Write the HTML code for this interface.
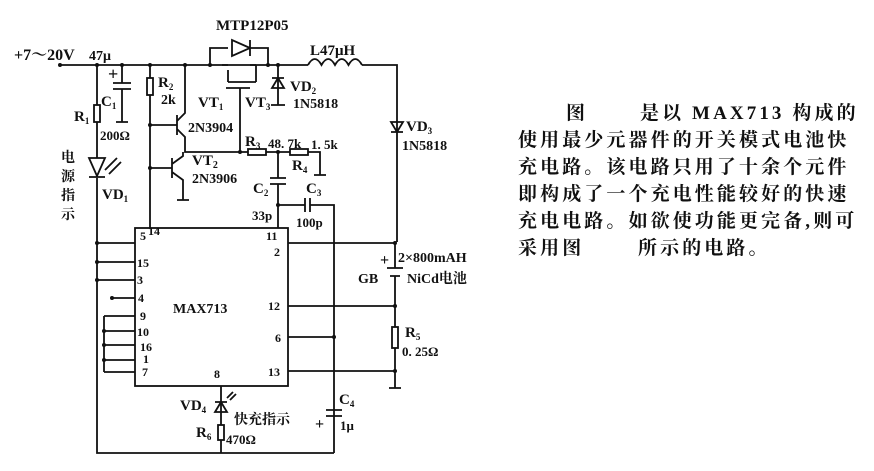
<!DOCTYPE html>
<html><head><meta charset="utf-8"><style>
html,body{margin:0;padding:0;background:#fff;}
svg{display:block}
text{font-family:"Liberation Serif","Noto Serif CJK SC",serif;fill:#111;}
.t{font-size:15px;font-weight:bold;}
.cn{font-family:"Liberation Serif","Noto Serif CJK SC",serif;font-size:19px;font-weight:bold;letter-spacing:3.1px;}
</style></head><body>
<svg width="874" height="471" viewBox="0 0 874 471" xmlns="http://www.w3.org/2000/svg">
<g stroke="#111" stroke-width="1.8" fill="none">
<path d="M60 65 H308 M362 65 H397 V242"/>
<path d="M308 65 q6.75 -12 13.5 0 q6.75 -12 13.5 0 q6.75 -12 13.5 0 q6.75 -12 13.5 0"/>
<path d="M97 65 V105 M97 122 V158 M97 178 V453 H334"/>
<rect x="94" y="105" width="6" height="17"/>
<path d="M89 158 H105 L97 176 Z M89 177 H105"/>
<path d="M105 170 L117 158 M109 174 L121 162"/>
<path d="M122 65 V83 M113 83 H131 M113 89 H131 M122 89 V122 M116 122 H128"/>
<path d="M150 65 V78 M150 95 V228"/>
<rect x="147" y="78" width="6" height="17"/>
<path d="M150 125 H177 M150 168 H172"/>
<path d="M177 115 V135 M177 121 L185 113 V65 M177 129 L185 137 V152 H248"/>
<path d="M172 158 V178 M172 164 L183 156 V152 M172 172 L183 180 V200 M177 200 H189"/>
<path d="M210 65 V48 H228 M250 48 H268 V65"/>
<path d="M250 40 V56 M250 48 L232 40 V56 Z"/>
<path d="M228 70 V82 M222 65 H228 M250 65 H256 M256 65 V82 M228 82 H256 M226 88 H250 M240 88 V152"/>
<path d="M278 65 V105 M271 105 H285 M272 78 H284 M278 78 L272 88 H284 Z"/>
<path d="M391 122 H403 L397 132 Z M391 132 H403"/>
<rect x="248" y="149" width="18" height="6"/>
<path d="M266 152 H290 M308 152 H320 V175 M314 175 H326"/>
<rect x="290" y="149" width="18" height="6"/>
<path d="M278 152 V178 M270 178 H286 M270 184 H286 M278 184 V228 M278 205 H305 M310 205 H334 V453 M305 198 V212 M310 198 V212"/>
<rect x="135" y="228" width="153" height="158"/>
<path d="M288 243 H395 M288 306 H395 M288 337 H334 M288 371 H395 V388 M389 388 H401"/>
<path d="M395 242 V268 M387 268 H403 M390 276 H400 M395 276 V306 V327 M395 348 V371"/>
<rect x="392" y="327" width="6" height="21"/>
<path d="M326 410 H342 M326 416 H342"/>
<path d="M97 243 H135 M97 262 H135 M97 280 H135 M112 298 H135"/>
<path d="M104 316 H135 M104 331 H135 M104 345 H135 M104 360 H135 M104 372 H135 M104 316 V372"/>
<path d="M221 386 V425 M221 440 V453 M215 402 H227 M221 402 L215 412 H227 Z M227 398 L233 392 M230 400 L236 394"/>
<rect x="218" y="425" width="6" height="15"/>
</g>
<g fill="#111">
<circle cx="60" cy="65" r="2"/><circle cx="97" cy="65" r="2"/><circle cx="122" cy="65" r="2"/><circle cx="150" cy="65" r="2"/><circle cx="185" cy="65" r="2"/><circle cx="210" cy="65" r="2"/><circle cx="268" cy="65" r="2"/><circle cx="278" cy="65" r="2"/>
<circle cx="150" cy="125" r="2"/><circle cx="150" cy="168" r="2"/><circle cx="240" cy="152" r="2"/><circle cx="278" cy="152" r="2"/><circle cx="278" cy="205" r="2"/>
<circle cx="395" cy="243" r="2"/><circle cx="395" cy="306" r="2"/><circle cx="395" cy="371" r="2"/><circle cx="334" cy="337" r="2"/>
<circle cx="97" cy="243" r="2"/><circle cx="97" cy="262" r="2"/><circle cx="97" cy="280" r="2"/><circle cx="112" cy="298" r="2"/>
<circle cx="104" cy="331" r="2"/><circle cx="104" cy="345" r="2"/><circle cx="104" cy="360" r="2"/>
</g>
<g class="t">
<text x="14" y="60" font-size="16">+7～20V</text>
<text x="89" y="60" font-size="14">47μ</text>
<text x="108" y="80" font-size="18">+</text>
<text x="101" y="106">C<tspan font-size="9" dy="3">1</tspan></text>
<text x="74" y="121">R<tspan font-size="9" dy="3">1</tspan></text>
<text x="100" y="140" font-size="13">200Ω</text>
<text x="61" y="162" font-size="14" style="font-family:'Noto Serif CJK SC',serif;font-weight:bold">电</text>
<text x="61" y="181" font-size="14" style="font-family:'Noto Serif CJK SC',serif;font-weight:bold">源</text>
<text x="61" y="200" font-size="14" style="font-family:'Noto Serif CJK SC',serif;font-weight:bold">指</text>
<text x="61" y="219" font-size="14" style="font-family:'Noto Serif CJK SC',serif;font-weight:bold">示</text>
<text x="102" y="199">VD<tspan font-size="9" dy="3">1</tspan></text>
<text x="158" y="87">R<tspan font-size="9" dy="3">2</tspan></text>
<text x="161" y="104" font-size="14">2k</text>
<text x="198" y="107">VT<tspan font-size="9" dy="3">1</tspan></text>
<text x="245" y="107">VT<tspan font-size="9" dy="3">3</tspan></text>
<text x="188" y="132" font-size="14">2N3904</text>
<text x="192" y="165">VT<tspan font-size="10" dy="3">2</tspan></text>
<text x="192" y="183" font-size="14">2N3906</text>
<text x="216" y="30" font-size="15">MTP12P05</text>
<text x="310" y="55" font-size="15">L47μH</text>
<text x="290" y="91">VD<tspan font-size="9" dy="3">2</tspan></text>
<text x="293" y="108" font-size="14">1N5818</text>
<text x="406" y="131">VD<tspan font-size="9" dy="3">3</tspan></text>
<text x="402" y="150" font-size="14">1N5818</text>
<text x="245" y="146">R<tspan font-size="9" dy="3">3</tspan></text>
<text x="268" y="148" font-size="13">48. 7k</text>
<text x="311" y="149" font-size="13">1. 5k</text>
<text x="292" y="170">R<tspan font-size="9" dy="3">4</tspan></text>
<text x="253" y="193">C<tspan font-size="9" dy="3">2</tspan></text>
<text x="306" y="193">C<tspan font-size="9" dy="3">3</tspan></text>
<text x="252" y="220" font-size="13">33p</text>
<text x="296" y="227" font-size="13">100p</text>
<text x="140" y="240" font-size="12">5</text><text x="148" y="235" font-size="12">14</text>
<text x="266" y="240" font-size="12">11</text>
<text x="274" y="256" font-size="12">2</text>
<text x="137" y="267" font-size="12">15</text>
<text x="137" y="284" font-size="12">3</text>
<text x="138" y="302" font-size="12">4</text>
<text x="140" y="320" font-size="12">9</text>
<text x="137" y="336" font-size="12">10</text>
<text x="140" y="351" font-size="12">16</text>
<text x="143" y="363" font-size="12">1</text>
<text x="142" y="376" font-size="12">7</text>
<text x="214" y="378" font-size="12">8</text>
<text x="268" y="310" font-size="12">12</text>
<text x="275" y="342" font-size="12">6</text>
<text x="268" y="376" font-size="12">13</text>
<text x="173" y="313" font-size="14">MAX713</text>
<text x="380" y="265" font-size="16">+</text>
<text x="398" y="262" font-size="14">2×800mAH</text>
<text x="358" y="283" font-size="14">GB</text>
<text x="407" y="283" font-size="14">NiCd电池</text>
<text x="405" y="337">R<tspan font-size="9" dy="3">5</tspan></text>
<text x="402" y="356" font-size="13">0. 25Ω</text>
<text x="180" y="410">VD<tspan font-size="9" dy="3">4</tspan></text>
<text x="234" y="424" font-size="14" style="font-family:'Noto Serif CJK SC',serif;font-weight:bold">快充指示</text>
<text x="196" y="437">R<tspan font-size="9" dy="3">6</tspan></text>
<text x="226" y="444" font-size="13">470Ω</text>
<text x="339" y="404">C<tspan font-size="9" dy="3">4</tspan></text>
<text x="315" y="429" font-size="16">+</text>
<text x="340" y="430" font-size="13">1μ</text>
</g>
<g class="cn">
<text x="566" y="119">图</text>
<text x="640" y="119">是以 MAX713 构成的</text>
<text x="518" y="146">使用最少元器件的开关模式电池快</text>
<text x="518" y="173">充电路。该电路只用了十余个元件</text>
<text x="518" y="200">即构成了一个充电性能较好的快速</text>
<text x="518" y="227">充电电路。如欲使功能更完备,则可</text>
<text x="518" y="254">采用图</text>
<text x="638" y="254">所示的电路。</text>
</g>
</svg>
</body></html>
